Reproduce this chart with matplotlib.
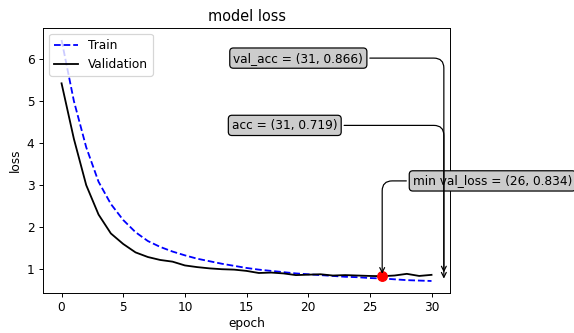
import numpy as np
import matplotlib
matplotlib.use("Agg")
import matplotlib.pyplot as plt

epochs = list(range(31))
train_loss = [6.45, 5.00, 3.90, 3.08, 2.55, 2.17, 1.88, 1.67, 1.53, 1.42,
              1.33, 1.25, 1.19, 1.13, 1.08, 1.03, 0.99, 0.96, 0.93, 0.90,
              0.88, 0.86, 0.84, 0.82, 0.81, 0.79, 0.78, 0.76, 0.74, 0.73, 0.72]
val_loss = [5.42, 4.10, 3.00, 2.30, 1.85, 1.60, 1.40, 1.29, 1.22, 1.18,
            1.09, 1.05, 1.02, 1.00, 0.99, 0.96, 0.91, 0.92, 0.90, 0.86,
            0.87, 0.88, 0.85, 0.86, 0.85, 0.84, 0.834, 0.85, 0.89, 0.84, 0.866]

min_epoch, min_val = 26, 0.834
acc_point = (31, 0.719)
val_acc_point = (31, 0.866)

# reference looks like a 100-dpi figure shrunk to 574 px, so draw at 87 dpi
dpi = 87
fig = plt.figure(figsize=(574 / dpi, 333 / dpi), dpi=dpi)
ax = fig.add_axes([0.075, 0.12, 0.709, 0.796])

ax.plot(epochs, train_loss, 'b--', label='Train')
ax.plot(epochs, val_loss, 'k-', label='Validation')
ax.plot(min_epoch, min_val, 'ro', markersize=8)

bbox = dict(boxstyle='round,pad=0.3', fc='0.8', ec='k')
arrow = dict(arrowstyle='->', connectionstyle='angle,angleA=0,angleB=90,rad=10', color='k')

ax.annotate(f'min val_loss = ({min_epoch}, {min_val})', xy=(min_epoch, min_val),
            xytext=(34.95, 3.1), ha='center', va='center',
            bbox=bbox, arrowprops=arrow, annotation_clip=False)
ax.annotate(f'acc = ({acc_point[0]}, {acc_point[1]})', xy=acc_point,
            xytext=(18.1, 4.42), ha='center', va='center',
            bbox=bbox, arrowprops=arrow, annotation_clip=False)
ax.annotate(f'val_acc = ({val_acc_point[0]}, {val_acc_point[1]})', xy=val_acc_point,
            xytext=(19.2, 6.02), ha='center', va='center',
            bbox=bbox, arrowprops=arrow, annotation_clip=False)

ax.set_title('model loss')
ax.set_xlabel('epoch', labelpad=2)
ax.set_ylabel('loss')
ax.legend(loc='upper left')

fig.savefig('out.png', dpi=dpi)
